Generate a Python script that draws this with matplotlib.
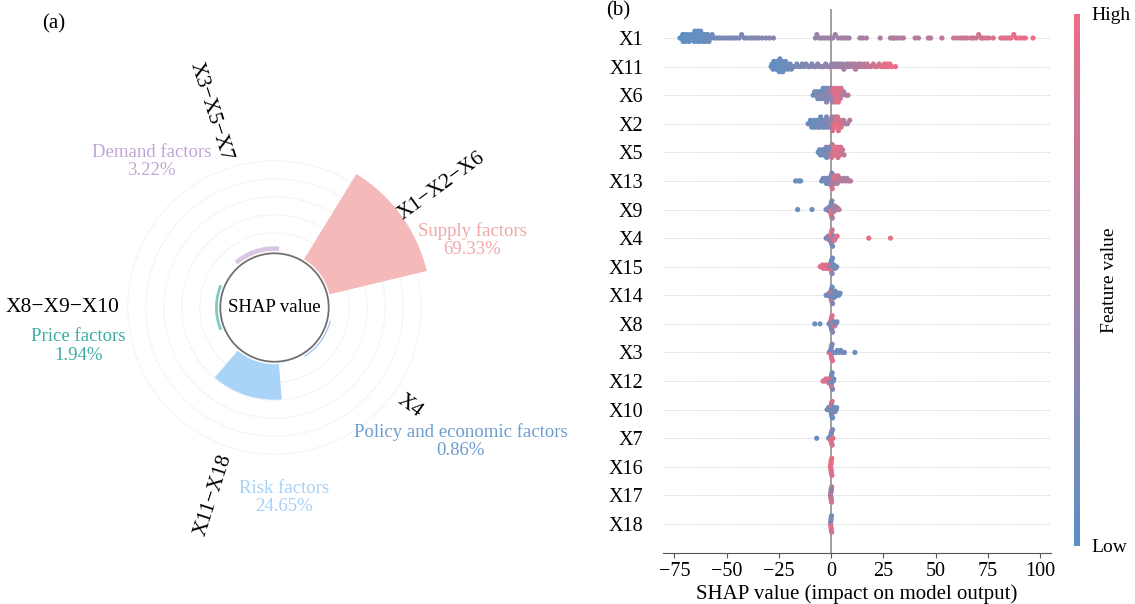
import numpy as np
import matplotlib
matplotlib.use('Agg')
import matplotlib.pyplot as plt
from matplotlib.colors import LinearSegmentedColormap, Normalize
from matplotlib.cm import ScalarMappable
from matplotlib.patches import Circle

plt.rcParams['font.family'] = ['Liberation Serif', 'DejaVu Serif']

# (a) share of SHAP value by factor group
factor_names = ['Supply factors', 'Demand factors', 'Price factors', 'Risk factors', 'Policy and economic factors']
factor_share = [69.33, 3.22, 1.94, 24.65, 0.86]
factor_vars = ['X1\u2212X2\u2212X6', 'X3\u2212X5\u2212X7', 'X8\u2212X9\u2212X10', 'X11\u2212X18', 'X4']
bar_colors = ['#F4B9B8', '#D9C7E3', '#7ECCC2', '#A9D3F7', '#A3BEF3']
text_colors = ['#F2A7A7', '#C0A6D6', '#3BADA5', '#A8D1F6', '#6C9DCF']

# (b) SHAP summary, features from top to bottom
features = ['X1', 'X11', 'X6', 'X2', 'X5', 'X13', 'X9', 'X4', 'X15',
            'X14', 'X8', 'X3', 'X12', 'X10', 'X7', 'X16', 'X17', 'X18']

x1_shap = [-72.3, -71.8, -71.0, -70.8, -70.5, -70.0, -69.6, -69.2, -68.5, -67.9,
           -67.2, -66.8, -66.1, -65.9, -65.5, -65.2, -64.8, -64.4, -64.0, -63.7,
           -63.5, -63.1, -62.8, -62.4, -62.1, -61.7, -61.2, -60.8, -60.4, -60.0,
           -59.5, -59.0, -58.4, -57.6, -56.9, -56.0,
           -54.8, -53.5, -52.0, -50.6, -49.3, -48.0, -46.8, -45.4, -44.0, -42.8,
           -41.5, -40.2, -38.6, -37.4, -36.0, -34.5, -33.0, -31.2, -29.4, -27.6,
           -7.5, -6.8, -5.6, -4.4, -3.2, -1.8, -0.6, 0.8, 2.0, 3.4,
           4.8, 5.9, 7.4, 8.6, 13.8, 15.2, 16.9, 23.5,
           28.4, 29.6, 30.4, 31.6, 33.2, 34.6, 40.2, 41.8, 46.5, 47.6,
           53.0, 58.6, 60.3, 62.0, 63.5, 65.0, 66.8, 68.0, 69.4, 70.6,
           71.8, 72.6, 74.0, 75.5, 77.6, 81.2, 82.4, 83.9, 85.0, 86.1,
           87.4, 88.6, 90.2, 91.6, 93.0, 96.6]
x1_feat = [0.02, 0.03, 0.05, 0.02, 0.04, 0.03, 0.06, 0.05, 0.07, 0.04,
           0.06, 0.08, 0.05, 0.07, 0.06, 0.09, 0.08, 0.10, 0.07, 0.09,
           0.06, 0.10, 0.08, 0.11, 0.09, 0.10, 0.12, 0.09, 0.11, 0.13,
           0.10, 0.12, 0.14, 0.13, 0.15, 0.14,
           0.16, 0.18, 0.17, 0.20, 0.19, 0.22, 0.20, 0.23, 0.22, 0.25,
           0.24, 0.26, 0.25, 0.27, 0.28, 0.27, 0.30, 0.29, 0.31, 0.32,
           0.42, 0.44, 0.43, 0.45, 0.44, 0.46, 0.47, 0.46, 0.48, 0.47,
           0.50, 0.49, 0.51, 0.50, 0.52, 0.53, 0.52, 0.56,
           0.57, 0.58, 0.60, 0.59, 0.62, 0.61, 0.64, 0.65, 0.67, 0.66,
           0.70, 0.73, 0.75, 0.74, 0.77, 0.76, 0.79, 0.80, 0.82, 0.81,
           0.84, 0.83, 0.86, 0.85, 0.88, 0.90, 0.91, 0.93, 0.92, 0.95,
           0.94, 0.96, 0.97, 0.98, 0.99, 1.00]

x11_shap = [-28.7, -28.2, -27.8, -27.4, -27.0, -26.7, -26.4, -26.1, -25.8, -25.6,
            -25.3, -25.0, -24.8, -24.5, -24.2, -24.0, -23.7, -23.4, -23.1, -22.8,
            -22.5, -22.1, -21.8, -21.4, -21.0, -20.6, -20.1, -19.6, -19.0,
            -18.2, -17.3, -16.4, -15.5, -14.6, -13.8, -12.9, -12.0, -11.0, -10.1,
            -9.2, -8.2, -7.3, -6.4, -5.4, -4.5, -3.5, -2.6, -1.6, -0.7,
            0.2, 0.9, 1.6, 2.3, 3.0, 3.6, 4.2, 4.9, 5.5, 6.1,
            6.8, 7.4, 8.0, 8.6, 9.2, 9.8, 10.5, 11.1, 11.7, 12.3,
            13.0, 13.6, 14.3, 15.0, 15.8, 16.5, 17.3, 18.2,
            19.2, 20.2, 21.1, 22.0, 23.0, 24.0, 24.8, 25.5, 26.1, 26.7,
            27.3, 28.1, 29.0, 30.8]
x11_feat = [0.05, 0.06, 0.04, 0.07, 0.05, 0.08, 0.06, 0.09, 0.07, 0.05,
            0.08, 0.10, 0.06, 0.09, 0.11, 0.07, 0.10, 0.12, 0.09, 0.11,
            0.13, 0.10, 0.12, 0.14, 0.13, 0.15, 0.14, 0.16, 0.17,
            0.20, 0.22, 0.21, 0.24, 0.23, 0.26, 0.25, 0.27, 0.28, 0.30,
            0.29, 0.31, 0.33, 0.32, 0.34, 0.35, 0.36, 0.37, 0.38, 0.39,
            0.40, 0.42, 0.41, 0.44, 0.43, 0.46, 0.45, 0.47, 0.46, 0.49,
            0.48, 0.50, 0.52, 0.51, 0.54, 0.53, 0.55, 0.57, 0.56, 0.59,
            0.60, 0.62, 0.61, 0.64, 0.66, 0.68, 0.70, 0.72,
            0.76, 0.78, 0.80, 0.82, 0.85, 0.87, 0.90, 0.92, 0.95, 0.97,
            0.96, 0.98, 0.99, 1.00]

x6_shap = [-8.6, -7.9, -7.3, -6.9, -6.4, -6.0, -5.6, -5.2, -4.8, -4.4, -4.1, -3.8,
           -3.4, -3.1, -2.8, -2.5, -2.2, -1.9, -1.6, -1.3, -1.0, -0.7, -0.4, -0.1,
           0.2, 0.5, 0.8, 1.1, 1.4, 1.7, 2.0, 2.3, 2.6, 2.9,
           3.2, 3.5, 3.8, 4.1, 4.4, 4.8, 5.3, 6.0, 7.2, 8.1]
x6_feat = [0.15, 0.20, 0.10, 0.25, 0.15, 0.30, 0.10, 0.20, 0.35, 0.15, 0.25, 0.10,
           0.30, 0.20, 0.40, 0.15, 0.35, 0.25, 0.45, 0.20, 0.40, 0.30, 0.50, 0.35,
           0.55, 0.45, 0.60, 0.90, 0.50, 0.95, 0.85, 1.00, 0.90, 0.95,
           0.85, 1.00, 0.90, 0.95, 0.80, 0.90, 0.70, 0.60, 0.55, 0.60]

x2_shap = [-11.0, -10.4, -9.9, -9.3, -8.8, -8.3, -7.9, -7.4, -7.0, -6.6,
           -6.2, -5.8, -5.4, -5.0, -4.6, -4.2, -3.8, -3.4, -3.0, -2.6,
           -2.2, -1.8, -1.4, -1.0, -0.6, -0.2,
           0.1, 0.4, 0.7, 1.0, 1.3, 1.6, 1.9, 2.2, 2.5, 2.8,
           3.1, 3.5, 3.9, 4.3, 4.8, 5.3, 6.0, 6.8, 7.8, 8.9]
x2_feat = [0.10, 0.15, 0.05, 0.20, 0.10, 0.15, 0.05, 0.20, 0.10, 0.25,
           0.10, 0.15, 0.20, 0.10, 0.30, 0.15, 0.20, 0.10, 0.25, 0.15,
           0.30, 0.20, 0.35, 0.25, 0.40, 0.30,
           0.50, 0.35, 0.80, 0.90, 0.45, 0.95, 0.85, 1.00, 0.90, 0.95,
           0.80, 0.90, 1.00, 0.85, 0.90, 0.75, 0.70, 0.60, 0.55, 0.60]

x5_shap = [-6.2, -5.6, -5.1, -4.6, -4.2, -3.8, -3.4, -3.0, -2.7, -2.4,
           -2.1, -1.8, -1.5, -1.2, -0.9, -0.6, -0.3, 0.0, 0.0,
           0.3, 0.6, 0.9, 1.2, 1.5, 1.8, 2.1, 2.4, 2.7, 3.0,
           3.3, 3.6, 3.9, 4.2, 4.6, 5.0, 5.5, 6.2]
x5_feat = [0.10, 0.15, 0.10, 0.20, 0.10, 0.15, 0.25, 0.10, 0.20, 0.30,
           0.15, 0.25, 0.10, 0.35, 0.20, 0.40, 0.30, 0.50, 0.30,
           0.85, 0.60, 0.90, 0.95, 0.80, 1.00, 0.90, 0.85, 0.95, 1.00,
           0.90, 0.80, 0.95, 0.85, 0.90, 0.75, 0.80, 0.70]

x13_shap = [-17.0, -15.6, -14.6, -4.5, -3.8, -3.2, -2.7, -2.2, -1.8, -1.4,
            -1.0, -0.7, -0.4, -0.1, 0.0, 0.2, 0.4, 0.6, 0.9, 1.2,
            1.5, 1.8, 2.1, 2.5, 2.9, 3.3, 3.8, 4.4, 5.2, 6.0,
            6.8, 7.6, 8.4, 9.3]
x13_feat = [0.10, 0.15, 0.10, 0.15, 0.20, 0.10, 0.25, 0.15, 0.30, 0.20,
            0.10, 0.35, 0.20, 0.45, 0.30, 0.60, 0.25, 0.80, 0.40, 0.90,
            0.55, 0.85, 0.70, 0.95, 0.60, 0.80, 0.55, 0.65, 0.60, 0.55,
            0.60, 0.55, 0.60, 0.65]

x9_shap = [-16.0, -9.1, -2.4, -1.8, -1.3, -0.9, -0.6, -0.3, -0.1, 0.0,
           0.0, 0.0, 0.1, 0.2, 0.3, 0.4, 0.6, 0.9, 1.2, 1.5,
           1.9, 2.4, 3.0, 3.8]
x9_feat = [0.10, 0.10, 0.20, 0.15, 0.30, 0.20, 0.10, 0.40, 0.85, 0.25,
           0.80, 0.15, 0.90, 0.30, 0.85, 0.20, 0.50, 0.95, 0.40, 0.60,
           0.55, 0.60, 0.55, 0.60]

x4_shap = [-2.4, -1.8, -1.3, -0.9, -0.6, -0.3, 0.0, 0.0, 0.1, 0.2,
           0.3, 0.5, 0.7, 0.9, 1.2, 1.6, 2.1, 2.9, 18.0, 28.4]
x4_feat = [0.20, 0.30, 0.15, 0.90, 0.25, 0.85, 0.20, 0.95, 0.30, 0.90,
           0.15, 0.80, 0.25, 0.95, 0.30, 0.90, 0.85, 0.95, 1.00, 1.00]

x15_shap = [-5.2, -4.6, -4.1, -3.6, -3.1, -2.6, -2.1, -1.6, -1.2, -0.8,
            -0.5, -0.3, -0.1, 0.0, 0.0, 0.1, 0.2, 0.3, 0.5, 0.7,
            1.0, 1.4, 2.0, 2.7]
x15_feat = [0.95, 0.90, 1.00, 0.90, 0.95, 0.85, 1.00, 0.90, 0.95, 0.85,
            0.20, 0.90, 0.15, 0.25, 0.95, 0.20, 0.85, 0.10, 0.30, 0.15,
            0.20, 0.10, 0.15, 0.20]

x14_shap = [-2.4, -1.6, -1.0, -0.6, -0.3, 0.0, 0.0, 0.1, 0.2, 0.3,
            0.5, 0.7, 1.0, 1.3, 1.6, 2.0, 2.5, 3.1, 3.7, 4.3]
x14_feat = [0.20, 0.15, 0.30, 0.10, 0.25, 0.20, 0.85, 0.15, 0.30, 0.90,
            0.10, 0.20, 0.15, 0.25, 0.10, 0.20, 0.15, 0.20, 0.10, 0.15]

x8_shap = [-7.8, -5.3, -1.0, -0.6, -0.3, 0.0, 0.0, 0.1, 0.2, 0.3,
           0.5, 0.7, 1.0, 1.3, 1.7, 2.2, 2.8]
x8_feat = [0.10, 0.15, 0.20, 0.30, 0.10, 0.25, 0.90, 0.20, 0.85, 0.15,
           0.95, 0.30, 0.90, 0.20, 0.85, 0.25, 0.20]

x3_shap = [-1.0, -0.6, -0.3, 0.0, 0.0, 0.1, 0.2, 0.3, 0.5, 0.7,
           1.0, 2.2, 3.0, 3.8, 4.6, 5.4, 6.4, 11.4]
x3_feat = [0.90, 0.85, 0.20, 0.95, 0.15, 0.90, 0.30, 0.85, 0.20, 0.95,
           0.25, 0.15, 0.10, 0.20, 0.15, 0.10, 0.20, 0.15]

x12_shap = [-3.9, -3.2, -2.6, -2.0, -1.5, -1.0, -0.6, -0.3, 0.0, 0.0,
            0.1, 0.2, 0.3, 0.5, 0.7, 1.0, 1.3]
x12_feat = [0.90, 0.85, 0.95, 0.90, 0.80, 0.90, 0.20, 0.85, 0.15, 0.90,
            0.25, 0.20, 0.90, 0.10, 0.30, 0.20, 0.15]

x10_shap = [-1.9, -1.2, -0.7, -0.3, 0.0, 0.0, 0.1, 0.2, 0.3, 0.5,
            0.7, 1.0, 1.4, 1.9, 2.4, 2.7]
x10_feat = [0.20, 0.15, 0.30, 0.10, 0.25, 0.90, 0.15, 0.30, 0.20, 0.85,
            0.10, 0.20, 0.15, 0.25, 0.20, 0.10]

x7_shap = [-6.9, -1.2, -0.7, -0.4, -0.2, 0.0, 0.0, 0.1, 0.2, 0.3, 0.5, 0.7, 0.9]
x7_feat = [0.10, 0.20, 0.90, 0.25, 0.85, 0.15, 0.95, 0.30, 0.90, 0.20, 0.85, 0.25, 0.90]

x16_shap = [-0.4, -0.2, -0.1, 0.0, 0.0, 0.0, 0.1, 0.1, 0.2, 0.3, 0.4]
x16_feat = [0.95, 0.90, 1.00, 0.85, 0.95, 1.00, 0.90, 0.95, 0.85, 1.00, 0.90]

x17_shap = [-0.3, -0.2, -0.1, 0.0, 0.0, 0.0, 0.1, 0.1, 0.2, 0.3]
x17_feat = [0.50, 0.90, 0.30, 0.60, 0.85, 0.40, 0.70, 0.20, 0.90, 0.55]

x18_shap = [-0.3, -0.2, -0.1, 0.0, 0.0, 0.0, 0.1, 0.2, 0.3]
x18_feat = [0.90, 0.20, 0.85, 0.30, 0.95, 0.15, 0.90, 0.25, 0.80]

rows = {
    'X1': (x1_shap, x1_feat), 'X11': (x11_shap, x11_feat), 'X6': (x6_shap, x6_feat),
    'X2': (x2_shap, x2_feat), 'X5': (x5_shap, x5_feat), 'X13': (x13_shap, x13_feat),
    'X9': (x9_shap, x9_feat), 'X4': (x4_shap, x4_feat), 'X15': (x15_shap, x15_feat),
    'X14': (x14_shap, x14_feat), 'X8': (x8_shap, x8_feat), 'X3': (x3_shap, x3_feat),
    'X12': (x12_shap, x12_feat), 'X10': (x10_shap, x10_feat), 'X7': (x7_shap, x7_feat),
    'X16': (x16_shap, x16_feat), 'X17': (x17_shap, x17_feat), 'X18': (x18_shap, x18_feat),
}


def swarm_offsets(values, bin_width=1.4, row_height=0.4):
    # stack points that share a bin alternately above/below the row line
    values = np.asarray(values, dtype=float)
    quant = np.round(values / bin_width)
    order = np.lexsort((np.arange(len(values)), quant))
    ys = np.zeros(len(values))
    layer, last = 0, None
    for i in order:
        if quant[i] != last:
            layer = 0
        ys[i] = np.ceil(layer / 2) * ((layer % 2) * 2 - 1)
        layer += 1
        last = quant[i]
    ys *= 0.9 * (row_height / np.max(ys + 1))
    return ys


fig = plt.figure(figsize=(11.35, 6.04), dpi=100)

# ---------------- (a) polar bar chart ----------------
ax1 = fig.add_axes([0.0903, 0.2061, 0.3031, 0.5695], projection='polar')
theta = np.deg2rad(36 + 72 * np.arange(len(factor_names)))
ax1.bar(theta, factor_share, width=np.deg2rad(45), bottom=0,
        color=bar_colors, linewidth=0, zorder=2)
ax1.set_ylim(-39.3, 80)
grid_r = [12.5, 25, 37.5, 50, 62.5]
ax1.set_yticks(grid_r, labels=[''] * len(grid_r))
ax1.yaxis.grid(True, color='#e4e4e4', linestyle=(0, (1, 1.5)), linewidth=0.8)
ax1.set_xticks([])
ax1.spines['polar'].set_visible(False)

ax1.add_patch(Circle((0.5, 0.5), 0.1576, transform=ax1.transAxes, facecolor='white',
                     edgecolor='#707070', linewidth=1.3, zorder=5, clip_on=False))
ax1.text(0.5, 0.5, 'SHAP value', transform=ax1.transAxes, ha='center', va='center',
         fontsize=13.5, zorder=6)

for ang, lab in zip(np.rad2deg(theta), factor_vars):
    if ang < 90 or ang > 270:
        ha, rot = 'left', (ang if ang < 90 else ang - 360)
    else:
        ha, rot = 'right', ang - 180
    ax1.text(np.deg2rad(ang), 68, lab, rotation=rot, rotation_mode='anchor',
             ha=ha, va='center', fontsize=15.5)

name_pos = [(1.074, 0.696), (0.142, 0.924), (-0.070, 0.388), (0.528, -0.053), (1.041, 0.111)]
for (px, py), name, share, col in zip(name_pos, factor_names, factor_share, text_colors):
    ax1.text(px, py, f'{name}\n{share:.2f}%', transform=ax1.transAxes, ha='center',
             va='center', color=col, fontsize=13.5, linespacing=1.1)

fig.text(54 / 1135, 1 - 24 / 604, '(a)', ha='center', va='center', fontsize=15)

# ---------------- (b) SHAP beeswarm ----------------
cmap = LinearSegmentedColormap.from_list('shap_bp', ['#5A91C4', '#EB6E85'])
ax2 = fig.add_axes([0.584, 0.0851, 0.3416, 0.8993])
n = len(features)
for i, f in enumerate(features):
    shap_vals, feat_vals = rows[f]
    y = n - 1 - i
    ax2.axhline(y, color='#cccccc', lw=0.6, dashes=(1.5, 1.5), zorder=-1)
    ax2.scatter(shap_vals, y + swarm_offsets(shap_vals), c=feat_vals, cmap=cmap,
                vmin=0, vmax=1, s=14, linewidths=0, zorder=3)
ax2.axvline(0, color='#999999', lw=1.3, zorder=1)

ax2.set_xlim(-80.5, 105)
ax2.set_ylim(-1, n)
ax2.set_xticks([-75, -50, -25, 0, 25, 50, 75, 100])
ax2.set_yticks(range(n))
ax2.set_yticklabels(features[::-1])
ax2.tick_params(axis='y', length=0, labelsize=14.5, pad=14)
ax2.tick_params(axis='x', labelsize=14.5, color='#555555')
for side in ['top', 'right', 'left']:
    ax2.spines[side].set_visible(False)
ax2.spines['bottom'].set_color('#555555')
ax2.set_xlabel('SHAP value (impact on model output)', fontsize=15, labelpad=2)

cax = fig.add_axes([0.9463, 1 - 546 / 604, 0.0053, 532 / 604])
cb = fig.colorbar(ScalarMappable(norm=Normalize(0, 1), cmap=cmap), cax=cax, ticks=[0, 1])
cb.set_ticklabels(['Low', 'High'])
cb.ax.tick_params(length=0, labelsize=14, pad=8)
cb.outline.set_visible(False)
fig.text(1110 / 1135, 1 - 280 / 604, 'Feature value', rotation=90, ha='center',
         va='center', fontsize=14)

fig.text(618 / 1135, 1 - 11 / 604, '(b)', ha='center', va='center', fontsize=15)

fig.savefig('out.png', dpi=100)
